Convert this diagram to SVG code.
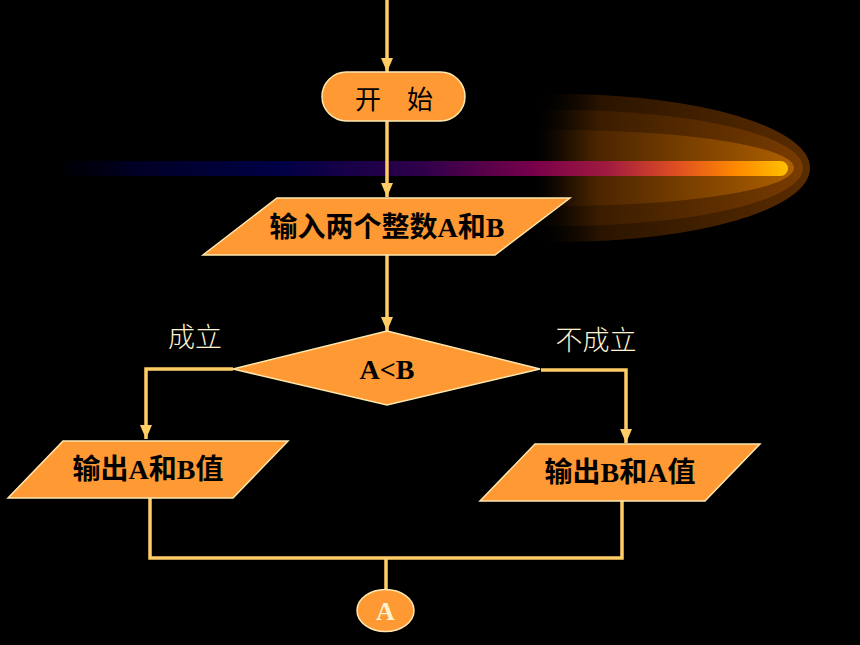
<svg xmlns="http://www.w3.org/2000/svg" width="860" height="645" viewBox="0 0 860 645">
<style>
.node{fill:#FF9933;stroke:#FFE8B0;stroke-width:1.5}
.conn{fill:none;stroke:#FFCC66;stroke-width:3.5}
.t{font-family:"Liberation Serif","Noto Sans CJK SC",serif;font-weight:bold;font-size:28px;fill:#000;text-anchor:middle;dominant-baseline:central}
.lbl{font-family:"Noto Sans CJK SC",sans-serif;font-size:27px;fill:#FFF3D0;text-anchor:middle;font-weight:300}
</style>
<defs>
<marker id="arr" viewBox="0 0 14 12" refX="14" refY="6" markerWidth="14" markerHeight="12" markerUnits="userSpaceOnUse" orient="auto">
<path d="M0,0 L14,6 L0,12 Z" fill="#FFCC66"/>
</marker>
<linearGradient id="g1" gradientUnits="userSpaceOnUse" x1="530" y1="0" x2="810" y2="0">
<stop offset="0" stop-color="#000" stop-opacity="0"/>
<stop offset="0.25" stop-color="#2a1400"/>
<stop offset="1" stop-color="#5a2c00"/>
</linearGradient>
<linearGradient id="g2" gradientUnits="userSpaceOnUse" x1="530" y1="0" x2="805" y2="0">
<stop offset="0" stop-color="#000" stop-opacity="0"/>
<stop offset="0.25" stop-color="#3a1c00"/>
<stop offset="1" stop-color="#7a3c00"/>
</linearGradient>
<linearGradient id="g3" gradientUnits="userSpaceOnUse" x1="530" y1="0" x2="795" y2="0">
<stop offset="0" stop-color="#000" stop-opacity="0"/>
<stop offset="0.25" stop-color="#4a2400"/>
<stop offset="1" stop-color="#b06000"/>
</linearGradient>
<linearGradient id="band" gradientUnits="userSpaceOnUse" x1="60" y1="0" x2="788" y2="0">
<stop offset="0" stop-color="#000010" stop-opacity="0.3"/>
<stop offset="0.1" stop-color="#000025"/>
<stop offset="0.3" stop-color="#000045"/>
<stop offset="0.5" stop-color="#30004a"/>
<stop offset="0.65" stop-color="#78004a"/>
<stop offset="0.75" stop-color="#a01a40"/>
<stop offset="0.85" stop-color="#e05020"/>
<stop offset="0.93" stop-color="#ff8a00"/>
<stop offset="1" stop-color="#ffc000"/>
</linearGradient>
</defs>
<rect width="860" height="645" fill="#000"/>
<g id="comet">
<ellipse cx="560" cy="168" rx="250" ry="74" fill="url(#g1)"/>
<ellipse cx="560" cy="168" rx="243" ry="58" fill="url(#g2)"/>
<ellipse cx="560" cy="168" rx="234" ry="38" fill="url(#g3)"/>
<rect x="60" y="161" width="728" height="15" rx="7.5" fill="url(#band)"/>
</g>
<g id="connectors">
<line class="conn" x1="387" y1="0" x2="387" y2="72" marker-end="url(#arr)"/>
<line class="conn" x1="387" y1="121" x2="387" y2="197" marker-end="url(#arr)"/>
<line class="conn" x1="387" y1="255" x2="387" y2="331" marker-end="url(#arr)"/>
<polyline class="conn" points="233,369 146,369 146,439" marker-end="url(#arr)"/>
<polyline class="conn" points="541,370 626,370 626,443" marker-end="url(#arr)"/>
<polyline class="conn" points="150,498 150,558 622,558 622,501"/>
<line class="conn" x1="386" y1="558" x2="386" y2="590"/>
</g>
<g id="start">
<rect class="node" x="322" y="72" width="143" height="49" rx="24.5"/>
<text x="394" y="97" class="t" style="font-family:'Noto Sans CJK SC',sans-serif;font-weight:normal;font-size:26px" word-spacing="20">开 始</text>
</g>
<g id="input">
<polygon class="node" points="277,198 570,198 495,255 203,255"/>
<text class="t" x="387" y="227">输入两个整数A和B</text>
</g>
<g id="decision">
<polygon class="node" points="387,331 540,369 387,405 233,369"/>
<text class="t" x="387" y="369">A&lt;B</text>
</g>
<g id="out-left">
<polygon class="node" points="63,441 288,441 233,498 8,498"/>
<text class="t" x="148" y="469">输出A和B值</text>
</g>
<g id="out-right">
<polygon class="node" points="535,444 760,444 705,501 480,501"/>
<text class="t" x="620" y="472">输出B和A值</text>
</g>
<g id="connector-A">
<ellipse class="node" cx="385.5" cy="610.5" rx="28.5" ry="21"/>
<text class="t" x="385.5" y="611" style="fill:#FFF3D0;font-size:26px">A</text>
</g>
<g id="labels">
<text class="lbl" x="195" y="347">成立</text>
<text class="lbl" x="596" y="350">不成立</text>
</g>
</svg>
